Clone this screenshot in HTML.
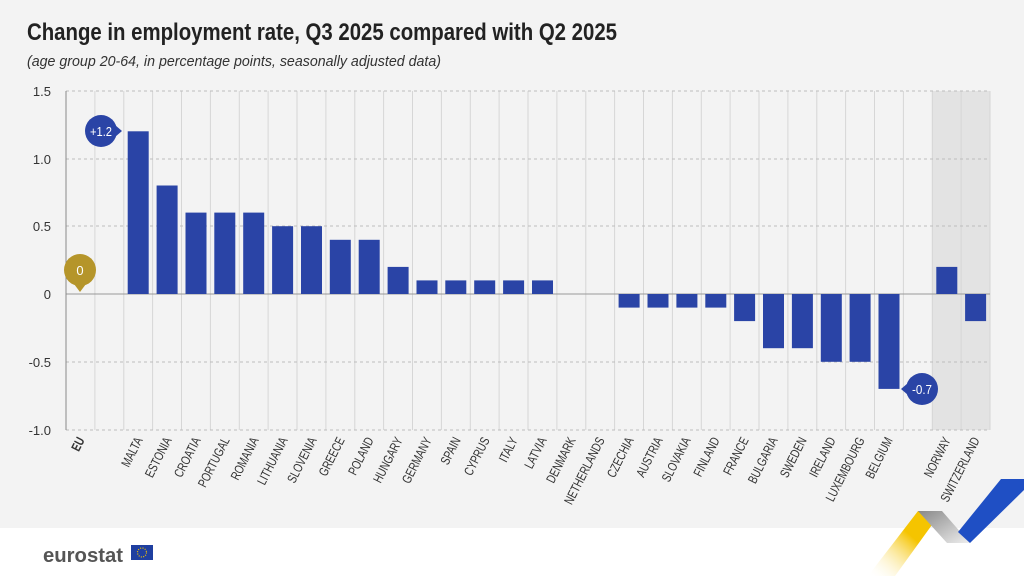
<!DOCTYPE html>
<html><head><meta charset="utf-8"><style>
body{margin:0;width:1024px;height:576px;overflow:hidden;background:#fff;font-family:"Liberation Sans",sans-serif}
</style></head><body>
<svg width="1024" height="576" xmlns="http://www.w3.org/2000/svg" font-family="'Liberation Sans',sans-serif">
<rect x="0" y="0" width="1024" height="528" fill="#f3f3f3"/>
<text x="27" y="40" font-size="24" font-weight="bold" fill="#222" textLength="590" lengthAdjust="spacingAndGlyphs">Change in employment rate, Q3 2025 compared with Q2 2025</text>
<text x="27" y="66" font-size="15" font-style="italic" fill="#333" textLength="414" lengthAdjust="spacingAndGlyphs">(age group 20-64, in percentage points, seasonally adjusted data)</text>
<rect x="932" y="91" width="58" height="339" fill="#e3e3e3"/>
<g stroke="#d6d6d6" stroke-width="1">
<line x1="94.9" y1="91" x2="94.9" y2="430"/><line x1="123.8" y1="91" x2="123.8" y2="430"/><line x1="152.6" y1="91" x2="152.6" y2="430"/><line x1="181.5" y1="91" x2="181.5" y2="430"/><line x1="210.4" y1="91" x2="210.4" y2="430"/><line x1="239.3" y1="91" x2="239.3" y2="430"/><line x1="268.1" y1="91" x2="268.1" y2="430"/><line x1="297" y1="91" x2="297" y2="430"/><line x1="325.9" y1="91" x2="325.9" y2="430"/><line x1="354.8" y1="91" x2="354.8" y2="430"/><line x1="383.6" y1="91" x2="383.6" y2="430"/><line x1="412.5" y1="91" x2="412.5" y2="430"/><line x1="441.4" y1="91" x2="441.4" y2="430"/><line x1="470.3" y1="91" x2="470.3" y2="430"/><line x1="499.1" y1="91" x2="499.1" y2="430"/><line x1="528" y1="91" x2="528" y2="430"/><line x1="556.9" y1="91" x2="556.9" y2="430"/><line x1="585.8" y1="91" x2="585.8" y2="430"/><line x1="614.6" y1="91" x2="614.6" y2="430"/><line x1="643.5" y1="91" x2="643.5" y2="430"/><line x1="672.4" y1="91" x2="672.4" y2="430"/><line x1="701.3" y1="91" x2="701.3" y2="430"/><line x1="730.1" y1="91" x2="730.1" y2="430"/><line x1="759" y1="91" x2="759" y2="430"/><line x1="787.9" y1="91" x2="787.9" y2="430"/><line x1="816.8" y1="91" x2="816.8" y2="430"/><line x1="845.6" y1="91" x2="845.6" y2="430"/><line x1="874.5" y1="91" x2="874.5" y2="430"/><line x1="903.4" y1="91" x2="903.4" y2="430"/><line x1="932.3" y1="91" x2="932.3" y2="430"/><line x1="961.1" y1="91" x2="961.1" y2="430"/><line x1="990" y1="91" x2="990" y2="430"/>
</g>
<g stroke="#bdbdbd" stroke-dasharray="3,3" stroke-width="1">
<line x1="66" y1="91" x2="990" y2="91"/><line x1="66" y1="159" x2="990" y2="159"/><line x1="66" y1="226" x2="990" y2="226"/><line x1="66" y1="362" x2="990" y2="362"/><line x1="66" y1="430" x2="990" y2="430"/>
</g>
<line x1="66" y1="294" x2="990" y2="294" stroke="#999" stroke-width="1"/>
<line x1="66" y1="91" x2="66" y2="430" stroke="#888" stroke-width="1"/>
<g font-size="13" fill="#333" text-anchor="end">
<text x="51" y="96">1.5</text><text x="51" y="164">1.0</text><text x="51" y="231">0.5</text><text x="51" y="299">0</text><text x="51" y="367">-0.5</text><text x="51" y="435">-1.0</text>
</g>
<g fill="#2a44a6">
<rect x="127.7" y="131.3" width="21" height="162.7"/>
<rect x="156.6" y="185.5" width="21" height="108.5"/>
<rect x="185.5" y="212.6" width="21" height="81.4"/>
<rect x="214.3" y="212.6" width="21" height="81.4"/>
<rect x="243.2" y="212.6" width="21" height="81.4"/>
<rect x="272.1" y="226.2" width="21" height="67.8"/>
<rect x="301" y="226.2" width="21" height="67.8"/>
<rect x="329.8" y="239.8" width="21" height="54.2"/>
<rect x="358.7" y="239.8" width="21" height="54.2"/>
<rect x="387.6" y="266.9" width="21" height="27.1"/>
<rect x="416.5" y="280.4" width="21" height="13.6"/>
<rect x="445.3" y="280.4" width="21" height="13.6"/>
<rect x="474.2" y="280.4" width="21" height="13.6"/>
<rect x="503.1" y="280.4" width="21" height="13.6"/>
<rect x="532" y="280.4" width="21" height="13.6"/>
<rect x="618.6" y="294" width="21" height="13.6"/>
<rect x="647.5" y="294" width="21" height="13.6"/>
<rect x="676.4" y="294" width="21" height="13.6"/>
<rect x="705.3" y="294" width="21" height="13.6"/>
<rect x="734.1" y="294" width="21" height="27.1"/>
<rect x="763" y="294" width="21" height="54.2"/>
<rect x="791.9" y="294" width="21" height="54.2"/>
<rect x="820.8" y="294" width="21" height="67.8"/>
<rect x="849.6" y="294" width="21" height="67.8"/>
<rect x="878.5" y="294" width="21" height="94.9"/>
<rect x="936.3" y="266.9" width="21" height="27.1"/>
<rect x="965.1" y="294" width="21" height="27.1"/>
</g>
<circle cx="101" cy="131" r="16" fill="#2a44a6"/><path d="M115 125 L122 131 L115 137Z" fill="#2a44a6"/>
<text x="101" y="136" font-size="13" fill="#fff" text-anchor="middle" textLength="22" lengthAdjust="spacingAndGlyphs">+1.2</text>
<circle cx="922" cy="389" r="16" fill="#2a44a6"/><path d="M908 383 L901 389 L908 395Z" fill="#2a44a6"/>
<text x="922" y="394" font-size="13" fill="#fff" text-anchor="middle" textLength="20" lengthAdjust="spacingAndGlyphs">-0.7</text>
<circle cx="80" cy="270" r="16" fill="#b5952a"/><path d="M74 284 L80 292 L86 284Z" fill="#b5952a"/>
<text x="80" y="275" font-size="13" fill="#fff" text-anchor="middle">0</text>
<g font-size="13" fill="#333" text-anchor="end">
<text transform="translate(85,440) rotate(-63) scale(0.76,1)" font-weight="bold">EU</text>
<text transform="translate(143,440) rotate(-63) scale(0.76,1)">MALTA</text>
<text transform="translate(172,440) rotate(-63) scale(0.76,1)">ESTONIA</text>
<text transform="translate(201,440) rotate(-63) scale(0.76,1)">CROATIA</text>
<text transform="translate(230,440) rotate(-63) scale(0.76,1)">PORTUGAL</text>
<text transform="translate(259,440) rotate(-63) scale(0.76,1)">ROMANIA</text>
<text transform="translate(288,440) rotate(-63) scale(0.76,1)">LITHUANIA</text>
<text transform="translate(317,440) rotate(-63) scale(0.76,1)">SLOVENIA</text>
<text transform="translate(345,440) rotate(-63) scale(0.76,1)">GREECE</text>
<text transform="translate(374,440) rotate(-63) scale(0.76,1)">POLAND</text>
<text transform="translate(403,440) rotate(-63) scale(0.76,1)">HUNGARY</text>
<text transform="translate(432,440) rotate(-63) scale(0.76,1)">GERMANY</text>
<text transform="translate(461,440) rotate(-63) scale(0.76,1)">SPAIN</text>
<text transform="translate(490,440) rotate(-63) scale(0.76,1)">CYPRUS</text>
<text transform="translate(518,440) rotate(-63) scale(0.76,1)">ITALY</text>
<text transform="translate(547,440) rotate(-63) scale(0.76,1)">LATVIA</text>
<text transform="translate(576,440) rotate(-63) scale(0.76,1)">DENMARK</text>
<text transform="translate(605,440) rotate(-63) scale(0.76,1)">NETHERLANDS</text>
<text transform="translate(634,440) rotate(-63) scale(0.76,1)">CZECHIA</text>
<text transform="translate(663,440) rotate(-63) scale(0.76,1)">AUSTRIA</text>
<text transform="translate(691,440) rotate(-63) scale(0.76,1)">SLOVAKIA</text>
<text transform="translate(720,440) rotate(-63) scale(0.76,1)">FINLAND</text>
<text transform="translate(749,440) rotate(-63) scale(0.76,1)">FRANCE</text>
<text transform="translate(778,440) rotate(-63) scale(0.76,1)">BULGARIA</text>
<text transform="translate(807,440) rotate(-63) scale(0.76,1)">SWEDEN</text>
<text transform="translate(836,440) rotate(-63) scale(0.76,1)">IRELAND</text>
<text transform="translate(865,440) rotate(-63) scale(0.76,1)">LUXEMBOURG</text>
<text transform="translate(893,440) rotate(-63) scale(0.76,1)">BELGIUM</text>
<text transform="translate(951,440) rotate(-63) scale(0.76,1)">NORWAY</text>
<text transform="translate(980,440) rotate(-63) scale(0.76,1)">SWITZERLAND</text>
</g>
<defs>
<linearGradient id="y" x1="0" y1="1" x2="1" y2="0"><stop offset="0" stop-color="#fff" stop-opacity="0"/><stop offset="0.6" stop-color="#f5c400"/></linearGradient>
<linearGradient id="g" x1="0" y1="0" x2="1" y2="1"><stop offset="0" stop-color="#888"/><stop offset="1" stop-color="#eee"/></linearGradient>
</defs>
<polygon points="918,511 942,511 895,576 868,576" fill="url(#y)"/>
<polygon points="918,511 942,511 970,543 947,543" fill="url(#g)"/>
<polygon points="1001,479 1024,479 1024,490 970,543 958,532" fill="#1f4fc4"/>
<text x="43" y="562" font-size="20" font-weight="bold" fill="#555" textLength="80" lengthAdjust="spacingAndGlyphs">eurostat</text>
<rect x="131" y="545" width="22" height="15" fill="#1f3fa0"/>
<circle cx="142" cy="552.5" r="4.5" fill="none" stroke="#f5c400" stroke-width="1.2" stroke-dasharray="1,1.4"/>
</svg>
</body></html>
